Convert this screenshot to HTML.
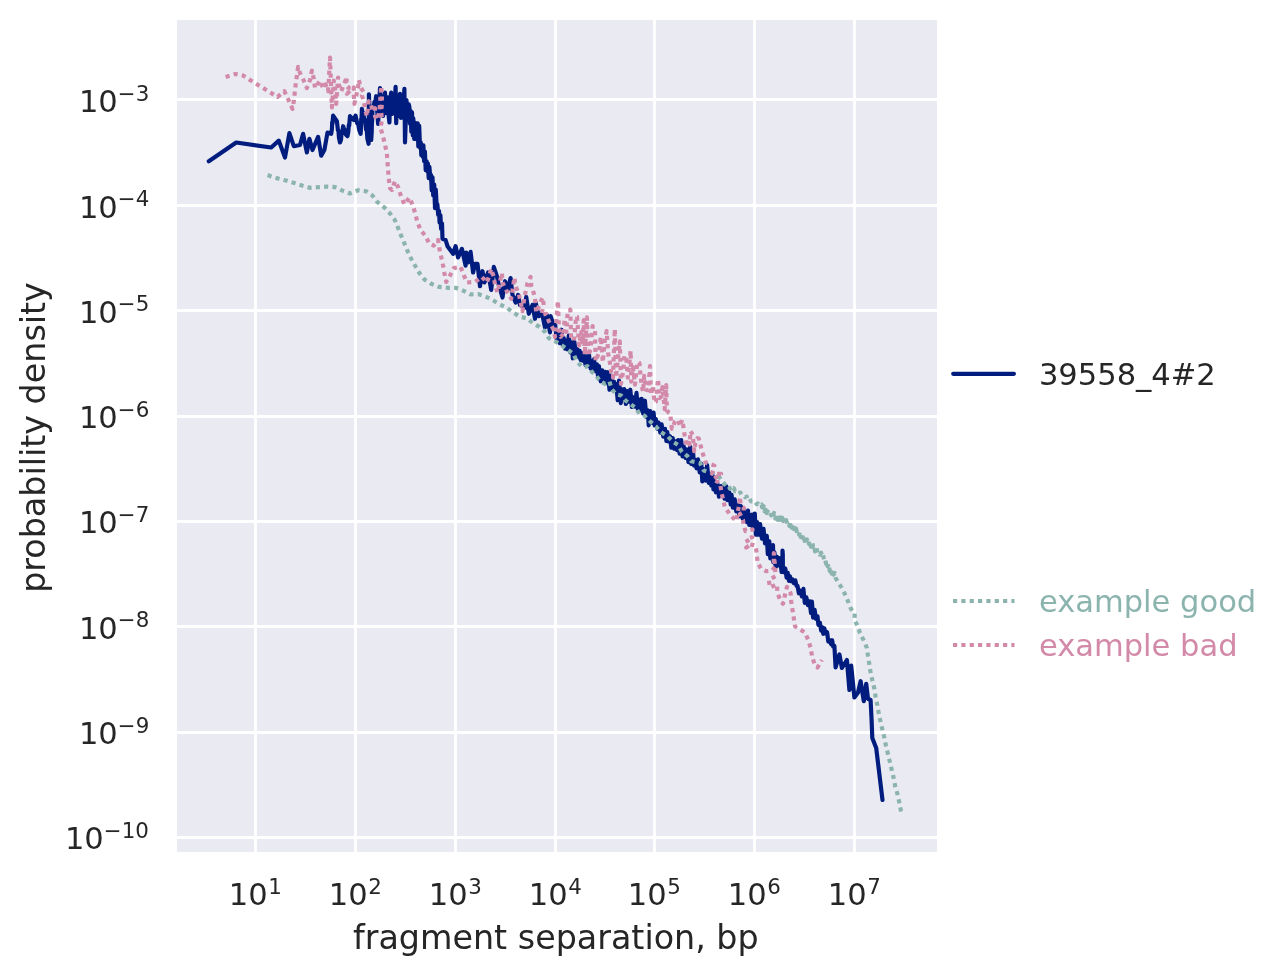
<!DOCTYPE html>
<html><head><meta charset="utf-8"><title>fragment separation</title>
<style>
html,body{margin:0;padding:0;background:#fff;}
body{width:1283px;height:976px;overflow:hidden;}
svg{display:block;}
text{font-family:"DejaVu Sans","Liberation Sans",sans-serif;fill:#262626;}
.tk{font-size:30.56px;}
.sup{font-size:21.39px;}
.ax{font-size:33.33px;}
.lg{font-size:30.56px;}
.grid line{stroke:#fff;stroke-width:2.78;}
.ln{fill:none;stroke-linejoin:round;}
</style></head><body>
<svg width="1283" height="976" viewBox="0 0 1283 976">
<rect x="0" y="0" width="1283" height="976" fill="#ffffff"/>
<rect x="177" y="20" width="760" height="832" fill="#eaeaf2"/>
<g class="grid">
<line x1="255.5" y1="20" x2="255.5" y2="852"/>
<line x1="355.5" y1="20" x2="355.5" y2="852"/>
<line x1="455.5" y1="20" x2="455.5" y2="852"/>
<line x1="555.5" y1="20" x2="555.5" y2="852"/>
<line x1="654.5" y1="20" x2="654.5" y2="852"/>
<line x1="754.5" y1="20" x2="754.5" y2="852"/>
<line x1="854.5" y1="20" x2="854.5" y2="852"/>
<line x1="177" y1="99.5" x2="937" y2="99.5"/>
<line x1="177" y1="205.5" x2="937" y2="205.5"/>
<line x1="177" y1="310.5" x2="937" y2="310.5"/>
<line x1="177" y1="416.5" x2="937" y2="416.5"/>
<line x1="177" y1="521.5" x2="937" y2="521.5"/>
<line x1="177" y1="626.5" x2="937" y2="626.5"/>
<line x1="177" y1="732.5" x2="937" y2="732.5"/>
<line x1="177" y1="837.5" x2="937" y2="837.5"/>
</g>
<clipPath id="cp"><rect x="177" y="20" width="760" height="832"/></clipPath>
<g clip-path="url(#cp)">
<path class="ln" d="M208.8,161.2 L236.2,142.5 L271.2,147.5 L278.8,140.6 L285.0,157.5 L289.4,133.1 L293.8,146.2 L300.0,145.0 L303.1,133.8 L306.9,152.5 L309.4,138.8 L312.5,150.0 L318.1,136.9 L321.2,155.6 L324.4,150.0 L327.5,132.5 L331.2,133.8 L331.9,129.3 L332.2,122.2 L332.5,123.9 L333.1,115.6 L336.9,121.2 L337.9,130.3 L338.4,130.3 L339.0,138.1 L340.0,142.5 L341.0,139.8 L341.6,132.3 L342.1,133.7 L343.1,126.2 L344.6,131.2 L345.3,130.0 L346.0,134.8 L347.5,136.2 L348.3,131.9 L348.8,124.9 L349.2,125.5 L350.0,116.2 L353.8,120.0 L355.6,115.6 L357.2,123.2 L358.1,123.1 L359.0,129.0 L360.6,133.8 L361.0,128.5 L361.2,118.7 L361.5,119.8 L361.9,108.8 L362.9,114.8 L363.4,113.1 L364.0,118.1 L365.0,120.0 L366.2,129.9 L366.8,130.5 L367.4,138.8 L368.6,143.8 L368.7,129.3 L368.8,117.6 L368.8,113.4 L368.9,94.4 L369.7,110.9 L370.1,114.3 L370.5,127.0 L371.2,140.0 L371.7,132.3 L371.9,123.2 L372.1,122.0 L372.5,110.0 L373.7,107.0 L374.4,101.9 L375.0,103.5 L376.2,96.2 L378.1,123.8 L380.0,88.1 L381.2,112.0 L382.2,96.0 L383.1,116.0 L384.0,100.0 L385.0,92.5 L386.0,113.0 L387.0,97.0 L388.0,110.0 L389.4,122.5 L390.3,98.0 L391.2,92.5 L392.2,114.0 L393.2,96.0 L394.3,112.0 L395.6,86.9 L396.2,123.1 L397.3,97.0 L398.3,116.0 L399.2,100.0 L400.0,93.8 L401.0,118.0 L402.0,96.0 L403.0,112.0 L404.4,88.8 L405.0,142.5 L406.5,100.0 L407.5,118.0 L408.8,104.4 L409.4,106.9 L410.0,123.7 L410.6,110.9 L411.3,131.7 L412.0,112.4 L412.8,135.5 L413.3,118.3 L414.2,138.9 L414.9,122.7 L415.8,139.0 L416.5,127.9 L417.1,139.4 L417.7,123.4 L418.3,146.4 L419.2,125.8 L420.0,147.6 L420.7,142.3 L421.3,155.1 L421.9,145.3 L422.6,156.6 L423.4,145.3 L424.1,161.2 L424.9,151.5 L425.7,170.1 L426.6,161.2 L427.3,171.2 L427.9,163.6 L428.7,178.2 L429.4,166.9 L430.3,177.9 L431.0,174.8 L431.7,190.4 L432.5,177.4 L433.2,195.5 L434.2,184.6 L435.0,208.2 L435.8,189.7 L436.8,208.5 L437.4,204.4 L438.2,214.8 L439.0,210.8 L439.6,222.6 L440.4,215.2 L441.1,229.0 L442.0,223.4 L442.5,238.8 L445.6,240.0 L447.5,246.2 L453.1,253.8 L455.6,246.2 L458.1,257.5 L461.9,248.8 L465.6,265.6 L466.2,252.5 L468.1,262.5 L470.6,251.9 L473.1,272.5 L475.0,263.8 L477.5,263.8 L480.0,286.2 L482.5,271.2 L484.4,282.5 L488.1,272.5 L491.2,290.0 L493.8,266.9 L496.9,276.2 L498.8,285.0 L502.5,297.5 L505.0,281.2 L507.5,290.0 L510.6,278.1 L512.5,295.0 L515.6,302.5 L518.1,295.0 L520.0,305.0 L525.0,307.5 L526.2,296.9 L528.8,313.8 L532.5,305.0 L535.0,318.8 L535.6,302.5 L538.8,316.2 L541.9,312.5 L545.0,327.5 L546.9,315.0 L550.0,332.5 L550.6,316.2 L554.4,327.5 L555.2,324.9 L556.9,341.0 L558.6,332.3 L559.8,343.1 L561.5,329.7 L562.6,344.9 L563.7,338.0 L565.0,348.6 L566.2,340.6 L567.4,349.4 L568.8,335.5 L570.4,352.4 L571.8,342.3 L572.8,358.4 L574.4,341.9 L576.0,356.4 L577.3,349.2 L578.7,357.4 L579.7,350.9 L580.7,359.9 L581.7,353.0 L582.7,360.7 L583.9,354.8 L585.6,365.2 L586.7,356.3 L587.9,365.7 L588.9,354.0 L590.7,368.5 L592.0,361.4 L593.0,370.2 L594.1,359.1 L595.2,371.2 L596.9,364.3 L598.0,375.7 L598.9,366.1 L600.7,381.3 L602.2,370.3 L603.4,379.3 L605.0,371.8 L606.6,382.9 L607.7,372.2 L609.5,389.7 L611.1,375.5 L612.7,388.7 L614.1,381.7 L615.0,390.4 L616.2,384.1 L617.7,400.2 L619.0,380.7 L620.8,403.1 L622.0,389.4 L623.1,398.0 L624.2,389.1 L625.9,404.0 L627.2,391.0 L628.8,401.6 L630.3,389.7 L631.9,407.0 L633.3,397.3 L634.9,406.6 L636.5,392.9 L637.8,409.2 L639.5,399.7 L640.6,410.9 L641.6,398.9 L643.2,413.4 L644.9,400.7 L646.4,417.0 L647.8,410.3 L648.7,425.3 L650.2,411.0 L651.9,423.0 L653.6,412.6 L654.7,425.6 L655.8,419.0 L657.3,428.8 L658.5,422.6 L660.3,432.7 L661.6,424.4 L663.3,436.6 L665.0,428.9 L666.4,440.9 L667.3,432.0 L668.4,441.4 L670.0,436.2 L671.3,447.7 L672.7,438.0 L674.1,448.8 L675.7,441.3 L677.1,450.1 L678.2,440.0 L679.6,453.6 L681.2,440.0 L682.5,456.3 L683.8,446.6 L685.4,457.9 L686.7,449.3 L688.5,462.1 L690.2,446.7 L691.3,464.0 L693.1,452.7 L694.1,465.5 L695.4,460.0 L696.5,468.3 L698.0,459.4 L699.7,472.4 L701.3,463.7 L702.3,481.5 L704.1,469.2 L705.8,480.6 L707.1,465.0 L708.8,482.8 L710.1,474.1 L711.3,485.5 L712.5,475.0 L713.4,489.3 L714.7,480.9 L715.9,492.3 L717.3,483.1 L719.0,496.7 L720.8,486.1 L722.0,494.9 L723.6,487.9 L724.6,498.7 L726.3,486.4 L727.4,500.1 L729.2,492.3 L730.7,504.5 L731.6,494.9 L732.9,507.7 L734.7,499.3 L736.3,511.5 L738.0,505.3 L739.6,516.3 L740.8,506.1 L742.6,518.4 L743.6,508.8 L744.7,519.6 L745.7,512.6 L746.8,522.1 L748.0,510.6 L749.2,524.9 L750.2,515.2 L751.1,525.4 L752.1,514.5 L753.4,527.8 L754.8,513.6 L755.8,534.7 L757.1,522.0 L758.7,534.6 L760.1,524.1 L761.9,538.6 L763.5,528.8 L765.0,543.3 L766.8,535.8 L767.8,554.1 L769.3,541.2 L770.3,558.4 L771.9,550.9 L773.0,545.0 L773.3,562.3 L774.4,552.4 L775.7,567.2 L777.0,556.9 L778.6,565.3 L780.0,558.2 L781.6,572.0 L782.3,570.0 L782.5,550.5 L782.8,554.6 L782.9,572.0 L784.0,572.3 L785.3,568.5 L786.6,577.6 L787.7,572.9 L789.0,580.8 L789.9,576.2 L791.0,581.2 L792.3,579.3 L793.7,583.0 L795.3,580.4 L796.5,585.7 L797.5,585.8 L798.9,593.3 L800.5,590.7 L801.9,596.4 L803.4,588.9 L804.8,602.9 L806.3,597.2 L807.9,605.2 L809.5,601.3 L811.0,613.0 L811.9,601.6 L813.1,617.7 L814.6,609.7 L816.0,618.9 L817.5,616.3 L818.4,624.9 L819.9,622.8 L821.2,630.6 L822.2,627.2 L823.3,633.8 L824.4,628.4 L825.4,633.5 L827.1,632.2 L828.3,641.6 L829.8,640.4 L831.2,644.4 L832.1,640.2 L833.2,646.7 L834.4,646.0 L835.6,667.5 L839.4,654.4 L841.9,668.0 L846.9,660.0 L849.4,690.0 L851.2,665.6 L854.4,697.5 L858.0,692.5 L860.6,681.2 L863.8,701.2 L866.2,683.8 L868.0,698.8 L870.6,700.0 L871.6,720.0 L872.3,738.0 L876.2,748.0 L882.5,800.0" stroke="#001c7f" stroke-width="4.17" stroke-linecap="round"/>
<path class="ln" d="M267.6,175.1 L270.0,175.9 L278.1,178.5 L286.2,180.6 L294.4,183.1 L301.9,185.6 L310.0,187.8 L318.8,187.2 L326.9,186.6 L335.0,187.1 L342.5,190.6 L350.0,193.5 L358.1,190.2 L366.2,191.2 L372.5,195.6 L377.5,202.2 L384.4,207.5 L390.0,213.5 L395.0,220.2 L398.1,228.1 L401.2,235.9 L404.4,243.4 L407.5,251.0 L411.2,258.8 L415.0,265.6 L419.4,273.1 L424.4,279.4 L431.2,283.8 L438.8,286.9 L447.5,287.8 L455.6,287.8 L463.1,290.6 L470.6,294.4 L478.1,294.0 L485.0,296.2 L492.5,300.0 L500.0,304.4 L506.9,307.8 L513.1,312.5 L520.6,316.9 L527.5,318.5 L532.5,322.8 L539.4,326.9 L545.0,331.9 L548.8,338.1 L556.2,341.9 L561.2,345.0 L567.5,349.4 L573.8,354.4 L576.9,361.9 L583.1,367.5 L587.5,366.2 L592.5,372.5 L596.2,375.6 L600.0,381.2 L605.0,383.8 L609.4,381.5 L611.9,389.4 L616.2,394.4 L621.2,395.5 L625.6,400.6 L631.0,404.5 L636.0,408.0 L639.4,413.8 L644.4,415.6 L650.0,421.2 L655.6,426.2 L660.6,431.9 L667.5,436.2 L673.1,441.9 L678.1,445.0 L681.9,451.9 L687.5,456.2 L691.2,461.2 L700.0,463.0 L703.8,470.6 L712.5,473.0 L720.0,478.0 L726.2,486.2 L727.0,486.9 L728.3,486.0 L730.0,488.6 L731.3,487.2 L732.7,489.4 L733.8,488.1 L735.0,491.3 L737.0,490.9 L738.4,493.2 L740.4,492.5 L741.7,494.7 L743.6,495.1 L745.2,497.2 L746.7,496.6 L747.8,499.8 L749.4,498.6 L751.1,501.5 L753.0,501.4 L754.0,502.9 L755.5,502.4 L756.8,504.2 L758.1,503.6 L760.0,505.9 L761.7,504.5 L762.5,511.0 L763.7,506.2 L764.6,511.3 L765.6,507.6 L766.7,513.1 L767.7,511.5 L768.4,513.6 L769.7,512.5 L771.1,515.3 L771.9,512.9 L772.8,516.5 L774.1,513.0 L775.4,518.6 L776.8,514.0 L777.8,519.9 L778.6,515.4 L779.6,520.7 L780.7,517.6 L781.5,522.0 L782.3,517.7 L783.2,521.1 L784.4,517.7 L785.3,523.6 L786.2,520.1 L787.2,523.5 L788.0,522.3 L789.3,525.9 L790.2,521.8 L791.6,527.7 L792.4,526.1 L793.2,529.1 L793.9,527.7 L794.8,531.6 L796.1,528.6 L797.1,533.7 L798.2,532.0 L799.1,534.7 L800.0,531.7 L800.8,537.1 L801.9,533.3 L802.8,537.8 L803.7,535.8 L804.7,541.0 L806.0,536.0 L806.7,539.9 L807.9,537.8 L808.9,543.8 L809.6,541.1 L811.0,546.7 L812.3,542.3 L813.1,547.0 L813.9,545.4 L815.1,551.5 L816.3,547.5 L817.6,552.6 L818.6,551.8 L819.9,554.5 L821.2,552.7 L822.1,556.5 L823.0,555.0 L824.2,559.8 L825.0,558.6 L826.1,563.8 L826.9,561.7 L827.6,566.2 L828.7,563.7 L829.8,571.1 L830.8,568.5 L831.7,573.7 L832.9,570.9 L833.6,574.7 L834.8,572.9 L835.7,577.8 L838.0,582.5 L841.2,586.9 L844.4,593.0 L847.5,600.0 L850.6,608.0 L853.0,612.5 L854.8,613.5 L854.4,620.0 L857.5,625.6 L860.0,633.0 L863.8,640.6 L866.9,648.0 L868.0,656.2 L869.4,664.4 L870.6,672.5 L872.5,681.2 L874.4,688.8 L875.6,696.9 L877.5,705.6 L878.8,713.8 L880.6,721.9 L882.5,730.0 L884.4,738.0 L886.0,746.0 L888.0,754.3 L890.0,762.5 L891.8,770.3 L893.8,778.5 L895.3,786.6 L897.7,794.8 L901.0,811.0 L901.6,813.6" stroke="#8cb4ae" stroke-width="4.17" stroke-dasharray="4.17 4.17" stroke-linejoin="miter"/>
<path class="ln" d="M225.6,76.9 L235.6,74.0 L243.1,75.6 L250.0,80.0 L277.5,96.9 L284.4,91.2 L288.8,100.6 L292.5,108.8 L293.8,101.2 L295.6,85.0 L298.1,66.9 L300.0,73.1 L303.8,80.6 L306.9,88.1 L310.0,80.0 L311.9,70.6 L313.8,78.8 L315.0,88.1 L320.0,80.6 L323.1,88.1 L325.6,84.4 L328.1,91.2 L328.8,80.6 L330.0,57.5 L331.9,107.5 L333.8,80.6 L335.0,88.1 L336.2,103.8 L338.1,77.5 L338.8,84.4 L341.2,91.2 L346.9,76.9 L346.2,85.0 L348.8,87.5 L346.9,93.8 L353.8,87.5 L353.8,95.0 L354.4,103.8 L358.1,87.5 L358.8,80.0 L361.2,88.1 L363.8,92.5 L361.9,95.6 L363.8,101.2 L365.0,108.8 L366.9,116.2 L368.8,101.2 L371.2,105.0 L372.5,111.2 L375.0,108.1 L375.0,116.2 L376.9,120.0 L379.4,111.9 L381.2,86.2 L381.9,95.0 L381.9,103.8 L381.2,111.9 L381.9,119.4 L380.6,128.0 L383.1,136.9 L385.0,144.4 L386.9,153.8 L387.5,161.9 L388.1,170.6 L388.8,178.8 L390.0,188.1 L391.9,190.0 L395.0,181.2 L398.1,186.9 L400.6,195.0 L404.4,204.4 L409.4,197.5 L413.1,206.2 L415.6,215.0 L417.5,222.5 L420.6,230.0 L425.6,236.2 L429.4,243.8 L433.8,245.6 L438.1,240.0 L439.4,248.8 L441.2,256.9 L443.1,265.6 L444.4,273.1 L446.2,281.9 L450.0,275.6 L453.8,268.1 L460.6,266.9 L463.8,275.0 L466.9,282.5 L475.0,281.9 L481.9,276.9 L486.9,282.5 L488.8,276.9 L491.2,268.8 L493.8,276.9 L495.0,285.0 L497.5,292.5 L501.9,273.1 L502.5,282.5 L506.2,290.0 L511.2,298.8 L514.4,277.5 L515.6,286.2 L518.8,293.8 L522.5,311.2 L524.4,297.5 L526.2,288.8 L527.5,283.1 L530.6,276.9 L531.2,285.6 L535.0,296.9 L536.2,312.5 L542.5,297.5 L543.8,305.0 L541.2,315.0 L546.2,313.8 L548.8,321.2 L553.8,330.0 L555.0,336.9 L557.9,300.9 L559.0,328.4 L560.7,336.8 L562.1,335.2 L563.3,337.1 L564.6,319.0 L566.4,332.2 L567.6,312.6 L570.3,309.5 L571.1,336.5 L574.0,340.6 L576.1,316.6 L577.1,316.7 L579.1,345.4 L581.2,332.1 L582.6,344.2 L583.7,320.2 L584.8,354.8 L586.9,317.3 L588.3,355.9 L590.5,349.4 L592.6,326.1 L595.0,330.5 L595.6,361.2 L597.4,356.7 L599.3,350.9 L600.8,336.8 L602.8,362.2 L604.8,341.2 L606.6,331.1 L608.2,353.6 L610.0,363.4 L611.2,372.3 L613.0,377.5 L614.8,329.0 L616.0,377.5 L619.8,341.4 L620.9,383.9 L623.2,371.3 L624.5,355.5 L626.3,358.7 L627.8,377.7 L630.7,350.8 L631.2,381.6 L632.9,367.1 L635.0,384.6 L636.7,368.0 L637.8,361.8 L639.4,363.0 L641.6,386.0 L643.1,391.6 L644.2,375.9 L645.9,389.7 L648.2,390.2 L650.0,366.2 L651.0,394.8 L653.0,385.8 L654.4,402.5 L655.9,401.7 L658.0,379.1 L659.6,398.1 L661.4,396.4 L662.4,387.1 L664.7,409.1 L666.2,385.0 L666.9,410.4 L668.5,412.4 L670.2,413.5 L671.9,428.8 L673.1,427.2 L674.8,421.6 L676.1,420.2 L678.0,419.8 L680.1,426.4 L682.0,420.0 L683.3,425.9 L684.8,436.7 L686.8,446.7 L687.9,439.0 L689.5,444.5 L690.6,431.1 L692.8,435.2 L694.2,451.2 L695.6,442.0 L697.5,438.2 L698.8,438.5 L701.0,447.0 L702.0,451.0 L705.6,462.5 L714.4,465.6 L712.0,473.8 L721.2,473.8 L713.0,479.4 L720.0,483.0 L721.2,490.6 L723.0,499.4 L725.0,507.5 L730.0,514.4 L736.2,521.2 L738.5,508.0 L740.0,496.9 L740.6,505.0 L743.8,508.0 L743.8,512.5 L740.0,514.0 L743.0,520.0 L743.8,526.2 L745.6,531.2 L752.5,529.4 L752.5,536.9 L746.2,538.8 L750.0,545.0 L746.2,547.5 L750.0,544.4 L755.6,545.6 L756.9,554.4 L757.5,562.5 L761.2,568.8 L766.2,571.2 L771.9,570.6 L775.0,566.9 L773.8,560.0 L773.8,553.0 L775.0,566.0 L775.6,576.2 L768.8,580.0 L770.0,587.5 L776.9,584.4 L777.5,593.0 L780.6,601.2 L783.0,603.8 L785.0,595.0 L786.9,586.9 L790.6,593.0 L791.2,601.2 L792.5,610.0 L793.8,618.0 L795.0,626.2 L798.8,628.8 L805.0,632.5 L808.0,639.4 L810.6,647.5 L811.9,655.6 L814.4,663.8 L817.5,667.5 L821.9,660.0" stroke="#d389a8" stroke-width="4.17" stroke-dasharray="4.17 4.17" stroke-linejoin="miter"/>
</g>
<g>
<text x="228.8" y="904.6" class="tk">10<tspan class="sup" dx="0.6" dy="-10.3">1</tspan></text>
<text x="328.8" y="904.6" class="tk">10<tspan class="sup" dx="0.6" dy="-10.3">2</tspan></text>
<text x="428.8" y="904.6" class="tk">10<tspan class="sup" dx="0.6" dy="-10.3">3</tspan></text>
<text x="528.8" y="904.6" class="tk">10<tspan class="sup" dx="0.6" dy="-10.3">4</tspan></text>
<text x="627.8" y="904.6" class="tk">10<tspan class="sup" dx="0.6" dy="-10.3">5</tspan></text>
<text x="727.8" y="904.6" class="tk">10<tspan class="sup" dx="0.6" dy="-10.3">6</tspan></text>
<text x="827.8" y="904.6" class="tk">10<tspan class="sup" dx="0.6" dy="-10.3">7</tspan></text>
</g>
<g>
<text x="78.9" y="112.2" class="tk">10<tspan class="sup" dy="-11.4">−3</tspan></text>
<text x="78.9" y="217.5" class="tk">10<tspan class="sup" dy="-11.4">−4</tspan></text>
<text x="78.9" y="322.8" class="tk">10<tspan class="sup" dy="-11.4">−5</tspan></text>
<text x="78.9" y="428.1" class="tk">10<tspan class="sup" dy="-11.4">−6</tspan></text>
<text x="78.9" y="533.4" class="tk">10<tspan class="sup" dy="-11.4">−7</tspan></text>
<text x="78.9" y="638.7" class="tk">10<tspan class="sup" dy="-11.4">−8</tspan></text>
<text x="78.9" y="744.0" class="tk">10<tspan class="sup" dy="-11.4">−9</tspan></text>
<text x="64.9" y="849.3" class="tk">10<tspan class="sup" dy="-11.4">−10</tspan></text>
</g>
<text x="353" y="948.7" class="ax">fragment separation, bp</text>
<text transform="translate(45.3,592.8) rotate(-90)" class="ax">probability density</text>
<line x1="953.2" y1="373.8" x2="1013.9" y2="373.8" stroke="#001c7f" stroke-width="4.17" stroke-linecap="round"/>
<text x="1038.9" y="384.6" class="lg">39558_4#2</text>
<line x1="953" y1="601" x2="1014.5" y2="601" stroke="#8cb4ae" stroke-width="4.17" stroke-dasharray="4.17 4.17"/>
<text x="1038.9" y="611.6" class="lg" style="fill:#8cb4ae">example good</text>
<line x1="953" y1="645" x2="1014.5" y2="645" stroke="#d389a8" stroke-width="4.17" stroke-dasharray="4.17 4.17"/>
<text x="1038.9" y="656" class="lg" style="fill:#d389a8">example bad</text>
</svg>
</body></html>
